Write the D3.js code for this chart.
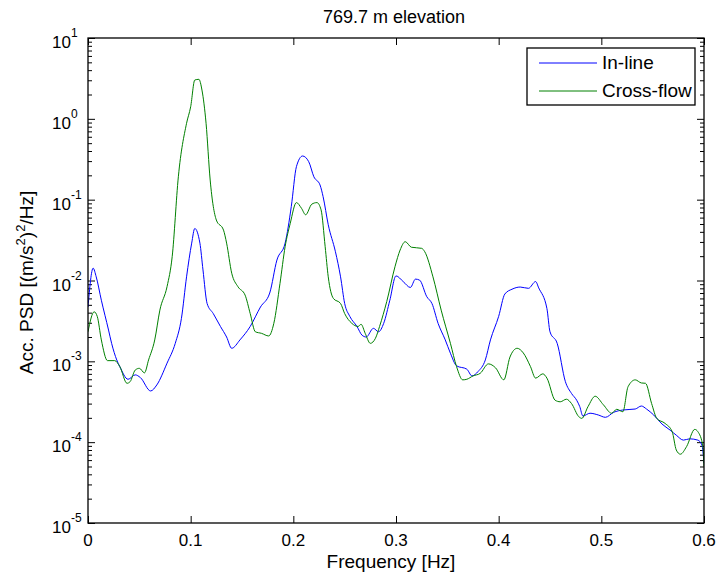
<!DOCTYPE html>
<html>
<head>
<meta charset="utf-8">
<script src="https://cdn.jsdelivr.net/npm/d3@7"></script>
<style>
  body { margin: 0; background: #fff; }
  svg { font-family: "Liberation Sans", Arial, sans-serif; }
</style>
</head>
<body>
<script>
var margin = { top: 38, right: 23, bottom: 56, left: 88 },
    width = 727 - margin.left - margin.right,
    height = 579 - margin.top - margin.bottom;

// In-line PSD
var freqInline = [0, 0.005, 0.008, 0.013, 0.020, 0.023, 0.028, 0.031, 0.039, 0.046, 0.051, 0.061, 0.067, 0.077,
    0.085, 0.091, 0.096, 0.101, 0.104, 0.109, 0.112, 0.116, 0.122, 0.129, 0.135, 0.140, 0.148, 0.158, 0.168,
    0.177, 0.184, 0.192, 0.198, 0.203, 0.209, 0.215, 0.220, 0.226, 0.229, 0.234, 0.241, 0.246, 0.250, 0.255,
    0.262, 0.267, 0.271, 0.278, 0.283, 0.288, 0.294, 0.300, 0.307, 0.314, 0.319, 0.323, 0.330, 0.335, 0.341,
    0.348, 0.353, 0.359, 0.369, 0.374, 0.380, 0.387, 0.392, 0.400, 0.406, 0.413, 0.421, 0.429, 0.436, 0.439,
    0.447, 0.450, 0.457, 0.465, 0.471, 0.476, 0.479, 0.482, 0.489, 0.497, 0.504, 0.512, 0.521, 0.533, 0.539,
    0.544, 0.551, 0.559, 0.567, 0.573, 0.580, 0.586, 0.594, 0.598, 0.600];
var psdInline = [4.7e-3, 1.42e-2, 1.11e-2, 5.7e-3, 2.44e-3, 1.67e-3, 1.04e-3, 8.6e-4, 6.0e-4, 6.8e-4, 6.3e-4,
    4.3e-4, 5.1e-4, 9.5e-4, 1.67e-3, 3.4e-3, 1.11e-2, 2.9e-2, 4.4e-2, 2.9e-2, 1.35e-2, 5.2e-3, 3.9e-3, 2.7e-3,
    2.0e-3, 1.45e-3, 1.84e-3, 2.7e-3, 4.7e-3, 7.0e-3, 1.79e-2, 2.9e-2, 8.2e-2, 0.256, 0.347, 0.295, 0.192,
    0.152, 0.109, 4.9e-2, 2.27e-2, 1.11e-2, 5.2e-3, 3.6e-3, 2.7e-3, 2.1e-3, 2.0e-3, 2.56e-3, 2.32e-3, 2.95e-3,
    5.7e-3, 1.14e-2, 9.7e-3, 8.2e-3, 1.04e-2, 1.01e-2, 6.3e-3, 5.2e-3, 2.95e-3, 1.84e-3, 1.26e-3, 8.8e-4,
    8.0e-4, 6.6e-4, 7.5e-4, 1.04e-3, 1.84e-3, 3.6e-3, 6.8e-3, 7.8e-3, 8.3e-3, 8.0e-3, 9.7e-3, 8.1e-3, 4.5e-3,
    2.32e-3, 1.67e-3, 5.6e-4, 4.0e-4, 3.3e-4, 2.75e-4, 2.11e-4, 2.28e-4, 2.17e-4, 2.03e-4, 2.34e-4, 2.5e-4,
    2.57e-4, 2.8e-4, 2.57e-4, 2.17e-4, 1.68e-4, 1.41e-4, 1.22e-4, 1.06e-4, 1.1e-4, 1.06e-4, 9.2e-5, 5.5e-5];

// Cross-flow PSD
var freqCross = [0, 0.006, 0.009, 0.013, 0.019, 0.026, 0.031, 0.038, 0.041, 0.046, 0.050, 0.055, 0.059, 0.065,
    0.070, 0.077, 0.082, 0.088, 0.096, 0.100, 0.104, 0.108, 0.111, 0.115, 0.119, 0.125, 0.132, 0.135, 0.140,
    0.146, 0.153, 0.158, 0.163, 0.169, 0.176, 0.181, 0.187, 0.192, 0.197, 0.203, 0.208, 0.212, 0.218, 0.223,
    0.227, 0.231, 0.234, 0.239, 0.246, 0.250, 0.257, 0.263, 0.266, 0.270, 0.275, 0.280, 0.284, 0.291, 0.299,
    0.304, 0.309, 0.315, 0.325, 0.328, 0.336, 0.344, 0.353, 0.359, 0.365, 0.369, 0.375, 0.382, 0.390, 0.397,
    0.405, 0.411, 0.418, 0.424, 0.431, 0.436, 0.443, 0.447, 0.455, 0.460, 0.466, 0.471, 0.478, 0.481, 0.487,
    0.494, 0.502, 0.510, 0.515, 0.521, 0.526, 0.533, 0.539, 0.543, 0.549, 0.554, 0.562, 0.569, 0.573, 0.577,
    0.583, 0.591, 0.594, 0.599, 0.600];
var psdCross = [2.32e-3, 4.1e-3, 3.6e-3, 1.84e-3, 1.02e-3, 1.02e-3, 8.6e-4, 5.35e-4, 5.6e-4, 7.8e-4, 8.2e-4,
    7.2e-4, 1.04e-3, 1.84e-3, 4.3e-3, 8.4e-3, 1.97e-2, 0.192, 0.88, 1.41, 3.02, 3.08, 2.27, 0.88, 0.175,
    5.6e-2, 4.2e-2, 2.9e-2, 1.23e-2, 8.4e-3, 6.6e-3, 3.9e-3, 2.32e-3, 2.22e-3, 2.06e-3, 2.95e-3, 9.2e-3,
    2.62e-2, 5.1e-2, 9.2e-2, 7.8e-2, 6.5e-2, 8.8e-2, 9.2e-2, 7.5e-2, 2.62e-2, 1.11e-2, 6.0e-3, 5.2e-3, 3.9e-3,
    2.95e-3, 2.7e-3, 2.87e-3, 2.22e-3, 1.67e-3, 1.93e-3, 2.7e-3, 5.5e-3, 1.48e-2, 2.38e-2, 3.02e-2, 2.58e-2,
    2.5e-2, 2.27e-2, 1.11e-2, 4.3e-3, 1.67e-3, 8.6e-4, 5.9e-4, 6.0e-4, 6.6e-4, 7.1e-4, 9.3e-4, 8.3e-4, 5.9e-4,
    1.13e-3, 1.45e-3, 1.27e-3, 8.6e-4, 6.2e-4, 7.0e-4, 6.2e-4, 3.3e-4, 3.16e-4, 3.4e-4, 3.0e-4, 2.07e-4,
    1.97e-4, 2.75e-4, 3.7e-4, 2.9e-4, 2.28e-4, 2.55e-4, 2.38e-4, 4.85e-4, 5.9e-4, 5.4e-4, 5.35e-4, 3.0e-4,
    1.97e-4, 1.71e-4, 1.35e-4, 8.0e-5, 7.1e-5, 8.8e-5, 1.44e-4, 1.35e-4, 8.8e-5, 5.0e-5];

var xTicks = [0, 0.1, 0.2, 0.3, 0.4, 0.5, 0.6];
var xTickLabels = ["0", "0.1", "0.2", "0.3", "0.4", "0.5", "0.6"];
var yExponents = [-5, -4, -3, -2, -1, 0, 1];

var seriesNames = ["In-line", "Cross-flow"];
var seriesColors = ["#0000ff", "#008000"];
var title = "769.7 m elevation";
var xLabel = "Frequency [Hz]";

var svg = d3.select("body")
    .append("svg")
    .attr("width", width + margin.left + margin.right)
    .attr("height", height + margin.top + margin.bottom)
    .append("g")
    .attr("transform", "translate(" + margin.left + "," + margin.top + ")");

var x = d3.scaleLinear().domain([0, 0.6]).range([0, width]);
var y = d3.scaleLog().domain([1e-5, 1e1]).range([height, 0]);

var majorY = yExponents.map(e => Math.pow(10, e));
var minorY = [];
yExponents.slice(0, -1).forEach(function (e) {
    for (var k = 2; k <= 9; k++) minorY.push(k * Math.pow(10, e));
});

// ticks pointing inwards on all four sides, like matlab's box on
svg.append("g")
    .attr("transform", `translate(0,${height})`)
    .call(d3.axisBottom(x).tickValues(xTicks).tickSize(-7).tickSizeOuter(0).tickFormat(""));
svg.append("g")
    .call(d3.axisTop(x).tickValues(xTicks).tickSize(-7).tickSizeOuter(0).tickFormat(""));
svg.append("g")
    .call(d3.axisLeft(y).tickValues(majorY).tickSize(-7).tickSizeOuter(0).tickFormat(""));
svg.append("g")
    .call(d3.axisLeft(y).tickValues(minorY).tickSize(-4).tickSizeOuter(0).tickFormat(""));
svg.append("g")
    .attr("transform", `translate(${width},0)`)
    .call(d3.axisRight(y).tickValues(majorY).tickSize(-7).tickSizeOuter(0).tickFormat(""));
svg.append("g")
    .attr("transform", `translate(${width},0)`)
    .call(d3.axisRight(y).tickValues(minorY).tickSize(-4).tickSizeOuter(0).tickFormat(""));

svg.selectAll(".domain").remove();
svg.selectAll(".tick line").attr("stroke", "#000");

// x tick labels
svg.append("g")
    .selectAll("text")
    .data(xTicks)
    .enter()
    .append("text")
    .attr("x", d => x(d))
    .attr("y", height + 23)
    .attr("text-anchor", "middle")
    .style("font-size", "17px")
    .text((d, i) => xTickLabels[i]);

// y tick labels 10^n
var yl = svg.append("g")
    .selectAll("text")
    .data(yExponents)
    .enter()
    .append("text")
    .attr("x", -36)
    .attr("y", d => y(Math.pow(10, d)) + 10)
    .style("font-size", "17px");
yl.append("tspan").text("10");
yl.append("tspan")
    .attr("dy", -11)
    .style("font-size", "12px")
    .text(d => d);

// lines
var line = d3.line()
    .x(d => x(d[0]))
    .y(d => y(d[1]))
    .curve(d3.curveMonotoneX);

var series = [
    d3.zip(freqInline, psdInline),
    d3.zip(freqCross, psdCross)
];

svg.append("clipPath").attr("id", "clip")
    .append("rect").attr("width", width).attr("height", height);

svg.append("g")
    .attr("clip-path", "url(#clip)")
    .selectAll("path")
    .data(series)
    .enter()
    .append("path")
    .attr("d", line)
    .attr("fill", "none")
    .attr("stroke", (d, i) => seriesColors[i])
    .attr("stroke-width", 1);

// axes box
svg.append("rect")
    .attr("width", width)
    .attr("height", height)
    .attr("fill", "none")
    .attr("stroke", "#000")
    .attr("stroke-width", 1.3);

// title and labels
svg.append("text")
    .attr("x", width / 2 - 2)
    .attr("y", -15)
    .attr("text-anchor", "middle")
    .style("font-size", "18px")
    .text(title);

svg.append("text")
    .attr("x", width / 2 - 5)
    .attr("y", height + 45)
    .attr("text-anchor", "middle")
    .style("font-size", "19px")
    .text(xLabel);

var ylab = svg.append("text")
    .attr("transform", `translate(-55,${height / 2 + 2}) rotate(-90)`)
    .attr("text-anchor", "middle")
    .style("font-size", "19px");
ylab.append("tspan").text("Acc. PSD [(m/s");
ylab.append("tspan").attr("dy", -8).style("font-size", "13px").text("2");
ylab.append("tspan").attr("dy", 8).text(")");
ylab.append("tspan").attr("dy", -8).style("font-size", "13px").text("2");
ylab.append("tspan").attr("dy", 8).text("/Hz]");

// legend
var legend = svg.append("g")
    .attr("transform", `translate(${527 - margin.left},${48 - margin.top})`);
legend.append("rect")
    .attr("width", 168)
    .attr("height", 57)
    .attr("fill", "#fff")
    .attr("stroke", "#000")
    .attr("stroke-width", 1.3);
var items = legend.selectAll("g")
    .data(seriesNames)
    .enter()
    .append("g")
    .attr("transform", (d, i) => `translate(0,${15 + i * 28})`);
items.append("line")
    .attr("x1", 12).attr("x2", 70)
    .attr("stroke", (d, i) => seriesColors[i]);
items.append("text")
    .attr("x", 75)
    .attr("y", 6)
    .style("font-size", "19px")
    .text(d => d);
</script>
</body>
</html>
